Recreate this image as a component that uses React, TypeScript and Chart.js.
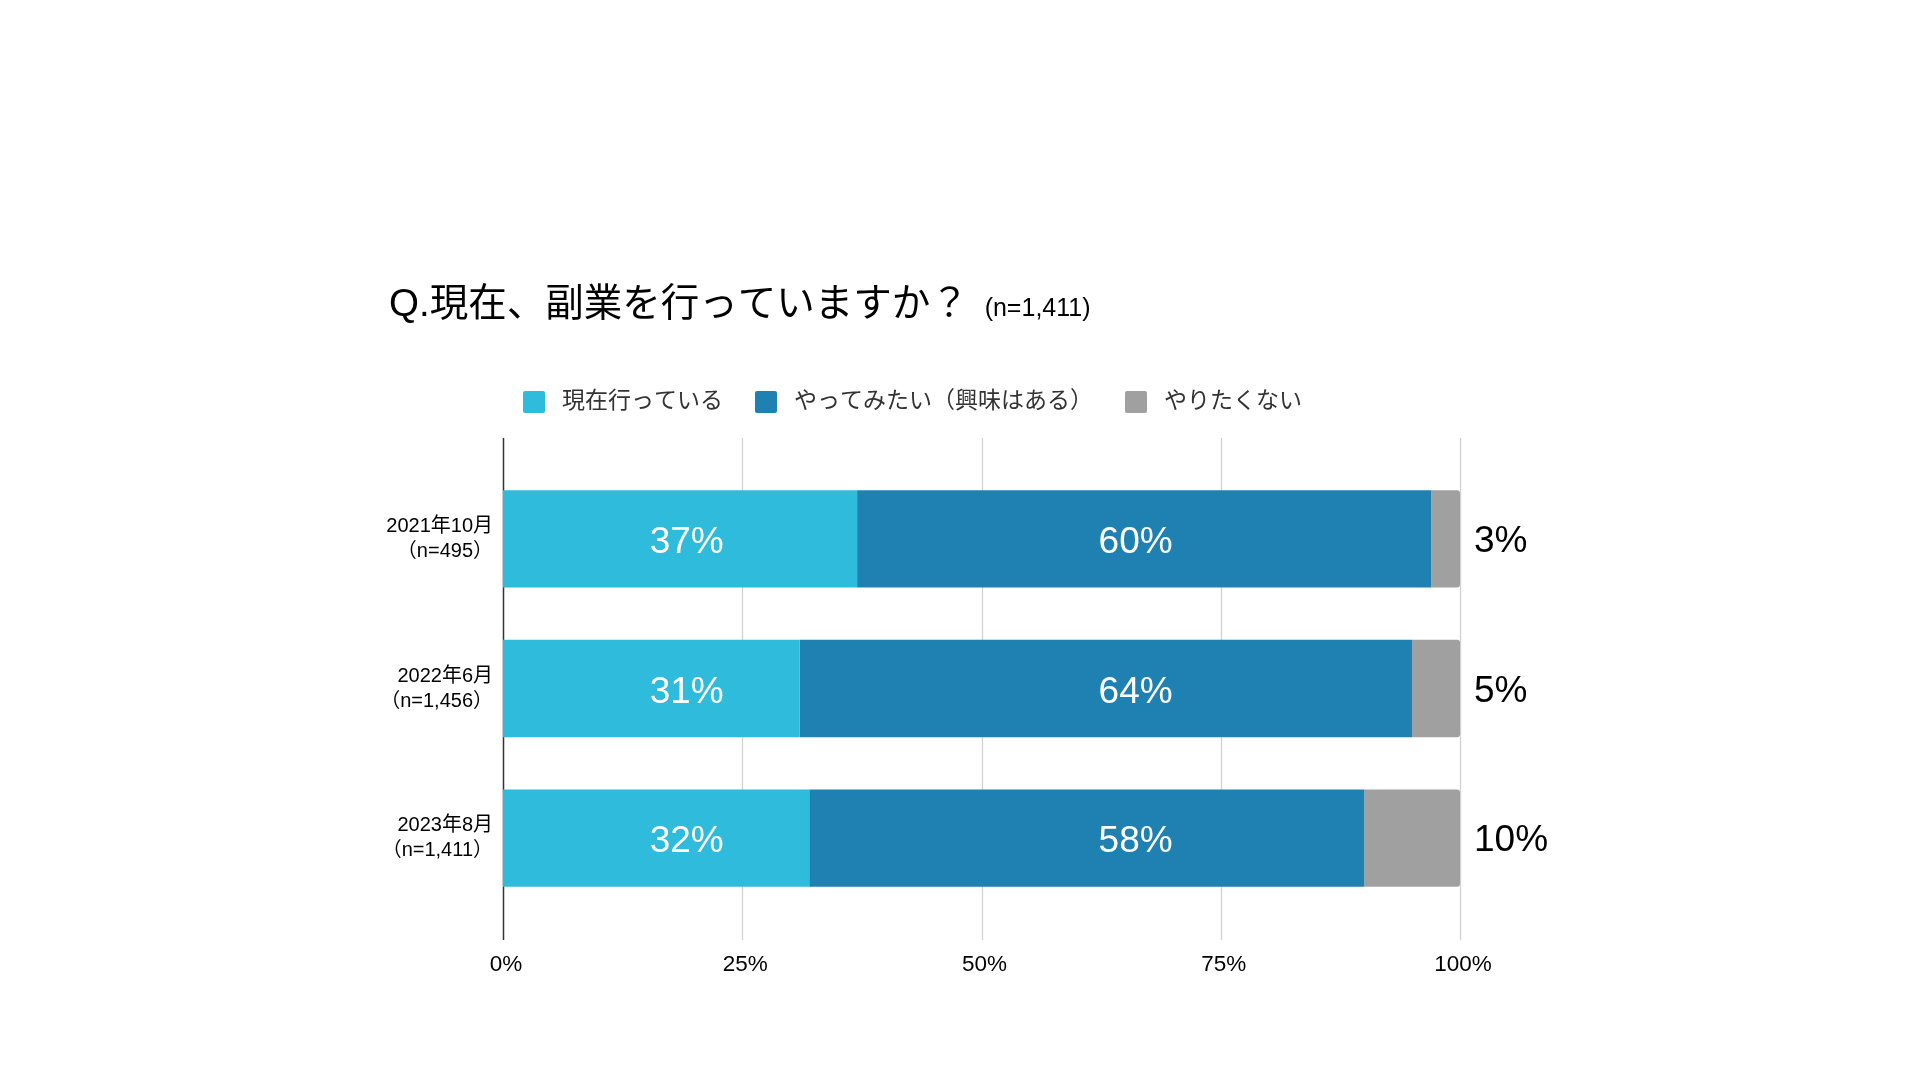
import { useEffect, useRef } from "react";
import { Chart, registerables, type ChartConfiguration, type Plugin } from "chart.js";

Chart.register(...registerables);

// survey rounds (y categories)
const periods = [
  ["2021年10月", "（n=495）"],
  ["2022年6月", "（n=1,456）"],
  ["2023年8月", "（n=1,411）"],
];
const seriesNames = ["現在行っている", "やってみたい（興味はある）", "やりたくない"];
const doingNow = [37, 31, 32];
const wantToTry = [60, 64, 58];
const notInterested = [3, 5, 10];
const xTicks = [0, 25, 50, 75, 100];

const COLORS = ["#2fbbdb", "#1f81b1", "#a0a0a0"];
const FONT = '"Liberation Sans", "Noto Sans CJK JP", sans-serif';

const overlay: Plugin<"bar"> = {
  id: "overlay",
  beforeDatasetsDraw(chart) {
    const { ctx, chartArea } = chart;
    const x = chart.scales.x;
    const top = chartArea.top - 26;
    const bottom = chartArea.bottom + 27;
    ctx.save();
    xTicks.forEach((t) => {
      if (t === 0) return;
      const px = Math.round(x.getPixelForValue(t)) + 0.5;
      ctx.strokeStyle = "#d2d2d2";
      ctx.lineWidth = 1.3;
      ctx.beginPath();
      ctx.moveTo(px, top);
      ctx.lineTo(px, bottom);
      ctx.stroke();
    });
    const p0 = Math.round(x.getPixelForValue(0)) + 0.5;
    ctx.strokeStyle = "#333";
    ctx.lineWidth = 1.5;
    ctx.beginPath();
    ctx.moveTo(p0, top);
    ctx.lineTo(p0, bottom);
    ctx.stroke();
    ctx.restore();
  },
  afterDatasetsDraw(chart) {
    const { ctx } = chart;
    const x = chart.scales.x;
    const labelAt = [19.2, 66.1];
    ctx.save();
    ctx.textBaseline = "middle";
    ctx.font = `37px ${FONT}`;
    [0, 1].forEach((di) => {
      const meta = chart.getDatasetMeta(di);
      const vals = chart.data.datasets[di].data as number[];
      meta.data.forEach((bar, i) => {
        ctx.fillStyle = "#fff";
        ctx.textAlign = "center";
        ctx.fillText(`${vals[i]}%`, x.getPixelForValue(labelAt[di]), bar.y + 4);
      });
    });
    const last = chart.getDatasetMeta(2);
    last.data.forEach((bar, i) => {
      ctx.fillStyle = "#000";
      ctx.textAlign = "left";
      ctx.fillText(`${notInterested[i]}%`, x.getPixelForValue(100) + 14, bar.y + 3);
    });
    ctx.restore();
  },
  afterDraw(chart) {
    const { ctx } = chart;
    ctx.save();
    // title
    ctx.fillStyle = "#000";
    ctx.textBaseline = "alphabetic";
    ctx.textAlign = "left";
    ctx.font = `38.5px ${FONT}`;
    const title = "Q.現在、副業を行っていますか？";
    ctx.fillText(title, 389, 316);
    const tw = ctx.measureText(title).width;
    ctx.font = `25px ${FONT}`;
    ctx.fillText("(n=1,411)", 389 + tw + 16, 316);

    // legend
    ctx.font = `23px ${FONT}`;
    ctx.textBaseline = "middle";
    let lx = 523;
    const ly = 402;
    seriesNames.forEach((name, i) => {
      ctx.fillStyle = COLORS[i];
      ctx.beginPath();
      ctx.roundRect(lx, ly - 11, 22, 22, 2);
      ctx.fill();
      lx += 22 + 17;
      ctx.fillStyle = "#333";
      ctx.fillText(name, lx, ly);
      lx += ctx.measureText(name).width + 32;
    });
    ctx.restore();
  },
};

const App = () => {
  const canvasRef = useRef<HTMLCanvasElement | null>(null);
  const chartRef = useRef<Chart | null>(null);

  useEffect(() => {
    if (!canvasRef.current) return;
    const config: ChartConfiguration<"bar"> = {
      type: "bar",
      data: {
        labels: periods,
        datasets: [doingNow, wantToTry, notInterested].map((d, i) => ({
          label: seriesNames[i],
          data: d,
          backgroundColor: COLORS[i],
          barPercentage: 0.65,
          categoryPercentage: 1,
          borderRadius: i === 2 ? 3 : 0,
        })),
      },
      options: {
        indexAxis: "y",
        animation: false,
        responsive: true,
        maintainAspectRatio: false,
        devicePixelRatio: 1,
        layout: { padding: { top: 464, right: 460, left: 0, bottom: 0 } },
        plugins: {
          legend: { display: false },
          title: { display: false },
          tooltip: { enabled: false },
        },
        scales: {
          x: {
            stacked: true,
            min: 0,
            max: 100,
            grid: { display: false, drawTicks: false },
            border: { display: false },
            afterBuildTicks: (s) => {
              s.ticks = xTicks.map((v) => ({ value: v }));
            },
            ticks: {
              callback: (v) => `${v}%`,
              color: "#000",
              font: { family: FONT, size: 22.5 },
              padding: 38,
              labelOffset: 3,
              maxRotation: 0,
            },
            afterFit: (s) => {
              s.height = 167;
            },
          },
          y: {
            stacked: true,
            grid: { display: false, drawTicks: false },
            border: { display: false },
            ticks: {
              color: "#000",
              font: { family: FONT, size: 20, lineHeight: 1.25 },
              padding: 10,
            },
            afterFit: (s) => {
              s.width = 503;
            },
          },
        },
      },
      plugins: [overlay],
    };
    chartRef.current = new Chart(canvasRef.current, config);
    return () => {
      chartRef.current?.destroy();
    };
  }, []);

  return (
    <div style={{ position: "fixed", left: 0, top: 0, width: 1920, height: 1080, background: "#fff" }}>
      <canvas ref={canvasRef}></canvas>
    </div>
  );
};

export default App;
